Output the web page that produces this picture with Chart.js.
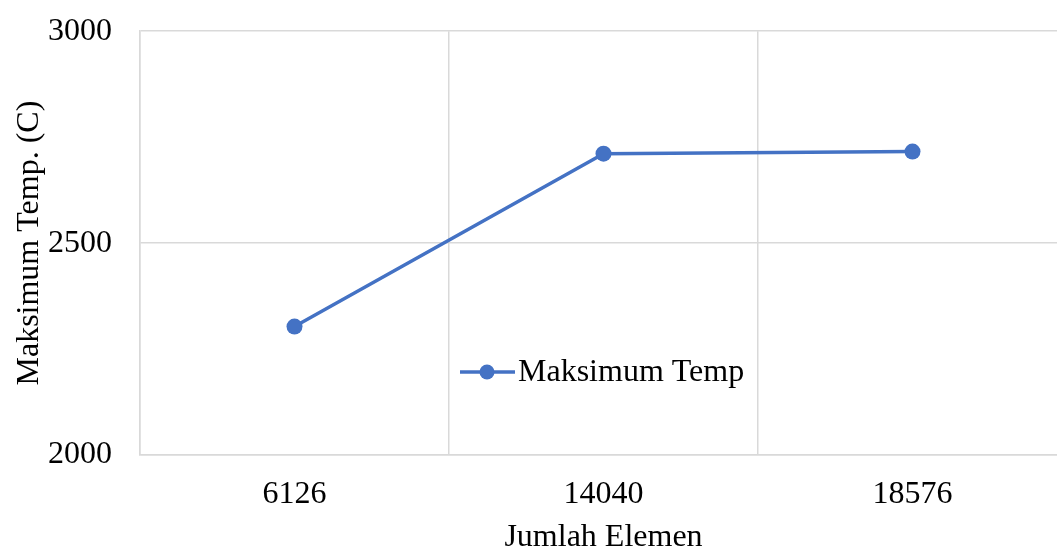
<!DOCTYPE html>
<html>
<head>
<meta charset="utf-8">
<script src="https://cdn.jsdelivr.net/npm/chart.js@4"></script>
<style>
  html, body { margin: 0; padding: 0; background: #fff; overflow: hidden; }
  #wrap { width: 1075px; height: 565px; margin-top: -16px; }
</style>
</head>
<body>
<div id="wrap"><canvas id="c"></canvas></div>
<script>
// ---- data ----
const categories = ['6126', '14040', '18576'];
const maxTemp = [2303, 2711, 2716];
const seriesName = 'Maksimum Temp';
const xTitle = 'Jumlah Elemen';
const yTitle = 'Maksimum Temp. (C)';

const FONT = "'Liberation Serif', 'Times New Roman', serif";
const FS = 32;
const BLUE = '#4472C4';
const GRID = '#d9d9d9';

// legend drawn inside the plot, Excel style (line + dot)
// (canvas is shifted up 16px, so y is in canvas coords)
const insideLegend = {
  id: 'insideLegend',
  afterDraw(chart) {
    const ctx = chart.ctx;
    const x0 = 460, y0 = 372 + 16;
    ctx.save();
    ctx.strokeStyle = BLUE;
    ctx.lineWidth = 3.5;
    ctx.beginPath();
    ctx.moveTo(x0, y0);
    ctx.lineTo(x0 + 55, y0);
    ctx.stroke();
    ctx.fillStyle = BLUE;
    ctx.beginPath();
    ctx.arc(x0 + 27, y0, 7.5, 0, Math.PI * 2);
    ctx.fill();
    ctx.fillStyle = '#000';
    ctx.font = FS + 'px ' + FONT;
    ctx.textBaseline = 'middle';
    ctx.fillText(seriesName, x0 + 58, y0 + 1);
    ctx.restore();
  }
};

new Chart(document.getElementById('c'), {
  type: 'line',
  data: {
    labels: categories,
    datasets: [{
      label: seriesName,
      data: maxTemp,
      borderColor: BLUE,
      backgroundColor: BLUE,
      borderWidth: 3.5,
      pointRadius: 8,
      pointHoverRadius: 8,
      pointBackgroundColor: BLUE,
      pointBorderWidth: 0,
      tension: 0,
    }],
  },
  options: {
    responsive: true,
    maintainAspectRatio: false,
    animation: false,
    layout: { padding: { top: 14, right: 5, left: 0, bottom: 0 } },
    plugins: {
      legend: { display: false },
      tooltip: { enabled: false },
    },
    scales: {
      x: {
        offset: true,
        grid: { color: GRID, lineWidth: 1.5, offset: true, drawTicks: false },
        border: { color: GRID, width: 1.5 },
        ticks: { color: '#000', font: { family: FONT, size: FS }, padding: 20, maxRotation: 0 },
        title: {
          display: true, text: xTitle, color: '#000',
          font: { family: FONT, size: FS, lineHeight: 1 },
          padding: { top: 0, bottom: -5 },
        },
        afterFit: (s) => { s.height = 94; },
      },
      y: {
        min: 2000,
        max: 3000,
        grid: { color: GRID, lineWidth: 1.5, drawTicks: false },
        border: { color: GRID, width: 1.5 },
        ticks: {
          stepSize: 500, color: '#000', font: { family: FONT, size: FS }, padding: 28,
          callback: (v) => String(v),
        },
        title: {
          display: true, text: yTitle, color: '#000',
          font: { family: FONT, size: FS, lineHeight: 1 },
          padding: { top: 14, bottom: 0 },
        },
        afterFit: (s) => { s.width = 140; },
      },
    },
  },
  plugins: [insideLegend],
});
</script>
</body>
</html>
